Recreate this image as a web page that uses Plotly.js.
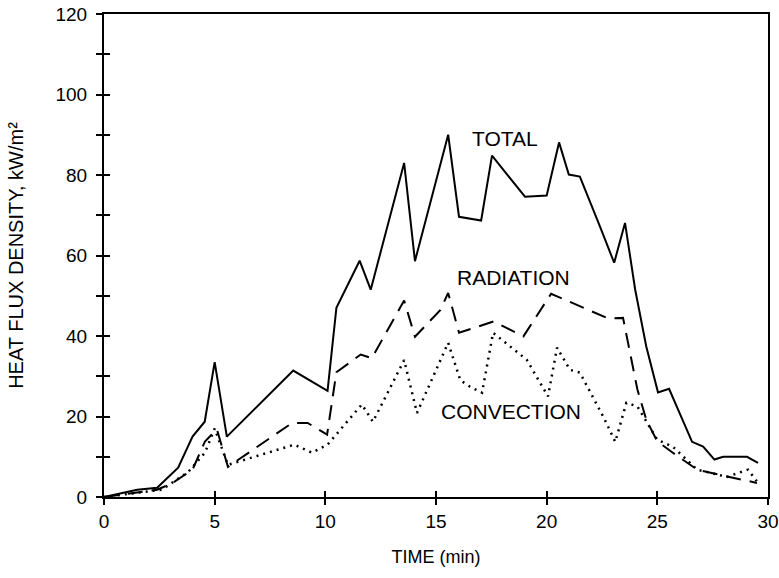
<!DOCTYPE html>
<html>
<head>
<meta charset="utf-8">
<script src="https://cdn.plot.ly/plotly-3.0.1.min.js"></script>
<style>html,body{margin:0;padding:0;background:#fff;}#chart{width:779px;height:578px;}</style>
</head>
<body>
<div id="chart"></div>
<script>
// TOTAL heat flux (solid)
const totalTime = [0, 1.5, 2.4, 3.35, 4.0, 4.55, 5.0, 5.55, 8.55, 10.1, 10.5, 11.55, 12.05, 13.56, 14.05, 15.55, 16.04, 17.04, 17.53, 19.02, 20.0, 20.56, 21.0, 21.5, 22.41, 23.05, 23.54, 24.0, 24.5, 25.03, 25.53, 26.57, 27.07, 27.58, 27.97, 29.05, 29.55];
const totalFlux = [0, 1.8, 2.3, 7.3, 15, 18.7, 33.5, 15, 31.4, 26.4, 47, 58.7, 51.5, 83, 58.6, 90, 69.6, 68.7, 84.8, 74.6, 74.9, 88.1, 80.1, 79.6, 67.2, 58.2, 68.1, 51.5, 37.4, 26, 26.9, 13.7, 12.5, 9.3, 10, 10, 8.5];

// RADIATION (dashed)
const radTime = [0, 1.5, 2.4, 3.1, 4.0, 4.56, 5.1, 5.6, 8.5, 9.2, 10.08, 10.5, 11.6, 12.1, 13.56, 14.05, 15.2, 15.55, 16.04, 17.6, 18.95, 20.2, 22.8, 23.45, 24.1, 24.5, 25.0, 25.7, 26.8, 28.15, 28.9, 29.5];
const radFlux = [0, 1.2, 1.8, 3.5, 6.8, 13.8, 16.8, 7.5, 18.4, 18.4, 15.5, 31, 35.4, 34.5, 48.8, 39.8, 46.5, 50.7, 40.8, 43.6, 39.9, 50.5, 44.3, 44.5, 26.7, 19.2, 13.8, 11, 6.8, 5.1, 4.3, 3.5];

// CONVECTION (dotted)
const convTime = [0, 1.5, 2.6, 3.8, 4.56, 5.0, 5.6, 8.6, 9.4, 10.1, 11.65, 12.15, 13.56, 14.14, 15.55, 16.1, 16.54, 17.08, 17.58, 19.1, 20.06, 20.47, 21.05, 21.5, 22.6, 23.1, 23.6, 24.1, 25.0, 25.7, 26.8, 28.15, 29.1, 29.55];
const convFlux = [0, 1, 1.8, 6.2, 11, 17, 8, 13, 11, 13, 23, 18.7, 34, 20.9, 38.3, 29, 27.4, 25.9, 40.8, 34.1, 25, 37.1, 31.6, 30.9, 19.5, 13.7, 23.4, 22.5, 14.2, 12.5, 6.8, 5, 6.8, 3.5];

// Axis ticks
const xTickVals = [0, 5, 10, 15, 20, 25, 30];
const xTickText = ['0', '5', '10', '15', '20', '25', '30'];
const yTickVals = [0, 10, 20, 30, 40, 50, 60, 70, 80, 90, 100, 110, 120];
const yTickText = ['0', '', '20', '', '40', '', '60', '', '80', '', '100', '', '120'];

// Series labels
const labelText = ['TOTAL', 'RADIATION', 'CONVECTION'];
const labelTime = [18.1, 18.5, 18.4];
const labelFlux = [89, 54.5, 21.2];

const FONT = 'Liberation Sans, Arial, Helvetica, sans-serif';

const traces = [
  {x: totalTime, y: totalFlux, type: 'scatter', mode: 'lines', name: 'TOTAL',
   line: {color: '#000', width: 2}},
  {x: radTime, y: radFlux, type: 'scatter', mode: 'lines', name: 'RADIATION',
   line: {color: '#000', width: 2, dash: '15px,9px'}},
  {x: convTime, y: convFlux, type: 'scatter', mode: 'lines', name: 'CONVECTION',
   line: {color: '#000', width: 2.5, dash: '2px,5px'}},
  {x: [], y: [], type: 'scatter', mode: 'lines', xaxis: 'x2', yaxis: 'y2',
   showlegend: false, hoverinfo: 'skip'}
];

const annotations = labelText.map((t, i) => ({
  x: labelTime[i], y: labelFlux[i], xref: 'x', yref: 'y', text: t,
  showarrow: false, font: {family: FONT, size: 21, color: '#000'}
}));

const layout = {
  width: 779, height: 578,
  margin: {l: 104, r: 11, t: 14, b: 81},
  paper_bgcolor: '#fff', plot_bgcolor: '#fff',
  showlegend: false,
  font: {family: FONT, color: '#000'},
  xaxis: {
    range: [0, 30], tickvals: xTickVals, ticktext: xTickText,
    ticks: 'outside', ticklen: 6, tickwidth: 2, tickcolor: '#000',
    showline: true, linewidth: 2, linecolor: '#000', mirror: true,
    showgrid: false, zeroline: false,
    tickfont: {family: FONT, size: 19, color: '#000'},
    title: {text: 'TIME (min)', font: {family: FONT, size: 18, color: '#000'}, standoff: 20}
  },
  yaxis: {
    range: [0, 120], tickvals: yTickVals, ticktext: yTickText,
    ticks: 'outside', ticklen: 6, tickwidth: 2, tickcolor: '#000',
    showline: true, linewidth: 2, linecolor: '#000', mirror: true,
    showgrid: false, zeroline: false,
    ticklabelstandoff: 5,
    tickfont: {family: FONT, size: 19, color: '#000'},
    title: {text: 'HEAT FLUX DENSITY, kW/m²', font: {family: FONT, size: 20, color: '#000'}, standoff: 26}
  },
  xaxis2: {
    overlaying: 'x', anchor: 'y', range: [0, 30], tickvals: xTickVals,
    showticklabels: false, ticks: 'inside', ticklen: 6, tickwidth: 2, tickcolor: '#000',
    showline: false, showgrid: false, zeroline: false
  },
  yaxis2: {
    overlaying: 'y', anchor: 'x', range: [0, 120], tickvals: yTickVals,
    showticklabels: false, ticks: 'inside', ticklen: 6, tickwidth: 2, tickcolor: '#000',
    showline: false, showgrid: false, zeroline: false
  },
  annotations: annotations
};

Plotly.newPlot('chart', traces, layout, {displayModeBar: false, staticPlot: true});
</script>
</body>
</html>
